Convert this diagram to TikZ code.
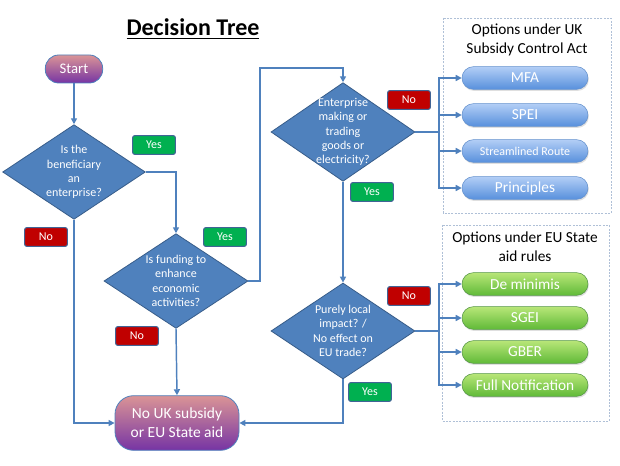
\documentclass[tikz,border=0pt]{standalone}
\usepackage{fontspec}
\setmainfont{Carlito}
\usepackage{tikz}
\usetikzlibrary{arrows.meta,calc,positioning,shapes.geometric,shapes.misc,shadows}
\definecolor{steelblue}{RGB}{79,129,189}
\definecolor{steeldark}{RGB}{56,93,138}
\definecolor{yesgreen}{RGB}{0,176,80}
\definecolor{nored}{RGB}{192,0,0}
\definecolor{tagborder}{RGB}{65,100,150}
\definecolor{pinktop}{RGB}{218,148,150}
\definecolor{purplebot}{RGB}{118,52,164}
\definecolor{skytop}{RGB}{178,206,246}
\definecolor{skybot}{RGB}{88,144,220}
\definecolor{skyborder}{RGB}{100,145,205}
\definecolor{limetop}{RGB}{184,230,120}
\definecolor{limebot}{RGB}{96,186,56}
\definecolor{limeborder}{RGB}{85,150,70}
\definecolor{groupline}{RGB}{175,192,215}
\tikzset{
  decision/.style={
    diamond,
    draw=steeldark,
    fill=steelblue,
    line width=0.6pt,
    inner sep=0pt,
    minimum width=107pt,
    minimum height=71pt
  },
  qtext/.style={
    align=center,
    inner sep=0pt,
    text=white,
    font=\fontsize{9}{10.7}\selectfont
  },
  terminal/.style={
    rounded corners=10pt,
    draw=steelblue,
    top color=pinktop,
    bottom color=purplebot,
    align=center,
    text=white,
    line width=0.6pt
  },
  yeslabel/.style={
    rounded corners=1.5pt,
    draw=tagborder,
    fill=yesgreen,
    text=white,
    minimum width=32pt,
    minimum height=14pt,
    inner sep=0pt,
    line width=0.8pt,
    font=\fontsize{9}{10}\selectfont
  },
  nolabel/.style={
    yeslabel,
    fill=nored
  },
  ukopt/.style={
    rounded rectangle,
    draw=skyborder,
    top color=skytop,
    bottom color=skybot,
    text=white,
    minimum width=94.5pt,
    minimum height=17pt,
    inner sep=0pt,
    drop shadow={opacity=0.25,shadow xshift=0.6pt,shadow yshift=-1.2pt},
    font=\fontsize{11.5}{12}\selectfont
  },
  euopt/.style={
    ukopt,
    draw=limeborder,
    top color=limetop,
    bottom color=limebot
  },
  grupo/.style={
    draw=groupline,
    dash pattern=on 1.5pt off 1pt,
    line width=0.5pt,
    fill=white
  },
  arrow/.style={
    -{Triangle[length=4.5pt,width=4.5pt]},
    line width=1.1pt,
    steelblue
  },
  plain/.style={
    line width=1.1pt,
    steelblue
  }
}
\begin{document}
\begin{tikzpicture}[x=0.75pt,y=-0.75pt]
\useasboundingbox (0,0) rectangle (620,466);
\node[font=\fontsize{18}{20}\selectfont\bfseries] (title) at (193,29) {\underline{Decision Tree}};

% option groups
\draw[grupo] (443,18) rectangle (611,213);
\node[align=center,font=\fontsize{11.5}{14.2}\selectfont] (uktitle) at (527,40) {Options under UK\\Subsidy Control Act};
\draw[grupo] (442,225) rectangle (609,421);
\node[align=center,font=\fontsize{11.5}{14.2}\selectfont] (eutitle) at (525,247) {Options under EU State\\aid rules};

% flow
\node[terminal,minimum width=43pt,minimum height=21pt,font=\fontsize{11}{12}\selectfont] (start) at (74,69) {Start};
\node[decision] (d1) at (74,172) {};
\node[qtext] (d1t) at (d1) {Is the\\beneficiary\\an\\enterprise?};
\node[decision,minimum width=108pt] (d2) at (176,281) {};
\node[qtext] (d2t) at (d2) {Is funding to\\enhance\\economic\\activities?};
\node[decision,minimum width=108pt,minimum height=74pt] (d3) at (343,132) {};
\node[qtext] (d3t) at (d3) {Enterprise\\making or\\trading\\goods or\\electricity?};
\node[decision,minimum width=108pt,minimum height=72pt] (d4) at (343,331) {};
\node[qtext] (d4t) at (d4) {Purely local\\impact? /\\No effect on\\EU trade?};
\node[terminal,rounded corners=14pt,minimum width=93pt,minimum height=41pt,font=\fontsize{11.6}{14.3}\selectfont] (nosub) at (177,423) {No UK subsidy\\or EU State aid};

% options
\node[ukopt] (mfa) at (525,78) {MFA};
\node[ukopt] (spei) at (525,115) {SPEI};
\node[ukopt,font=\fontsize{9}{10}\selectfont] (stream) at (525,151) {Streamlined Route};
\node[ukopt] (princ) at (525,188) {Principles};
\node[euopt] (demin) at (525,284) {De minimis};
\node[euopt] (sgei) at (525,318) {SGEI};
\node[euopt] (gber) at (525,352) {GBER};
\node[euopt] (fulln) at (525,385) {Full Notification};

% yes / no tags
\node[yeslabel] (yes1) at (154,145) {Yes};
\node[nolabel] (no1) at (46,237) {No};
\node[yeslabel] (yes2) at (225,237) {Yes};
\node[nolabel] (no2) at (137,336) {No};
\node[nolabel] (no3) at (409,100) {No};
\node[yeslabel] (yes3) at (372,192) {Yes};
\node[nolabel] (no4) at (409,296) {No};
\node[yeslabel] (yes4) at (370,392) {Yes};

\coordinate (up) at (260,68);
\coordinate (b3) at (439,132);
\coordinate (b4) at (439,331);

\draw[arrow] (start) -- (d1);
\draw[arrow] (d1.east) -| (d2.north);
\draw[arrow] (d1.south) |- (nosub.west);
\draw[arrow] (d2.south) -- (nosub.north);
\draw[arrow] (d2.east) -| (up) -| (d3.north);
\draw[arrow] (d3.south) -- (d4.north);
\draw[arrow] (d4.south) |- (nosub.east);
\draw[plain] (d3.east) -- (b3);
\draw[plain] (d4.east) -- (b4);
\foreach \o in {mfa,spei,stream,princ}
  \draw[arrow] (b3) |- (\o.west);
\foreach \o in {demin,sgei,gber,fulln}
  \draw[arrow] (b4) |- (\o.west);
\end{tikzpicture}
\end{document}
